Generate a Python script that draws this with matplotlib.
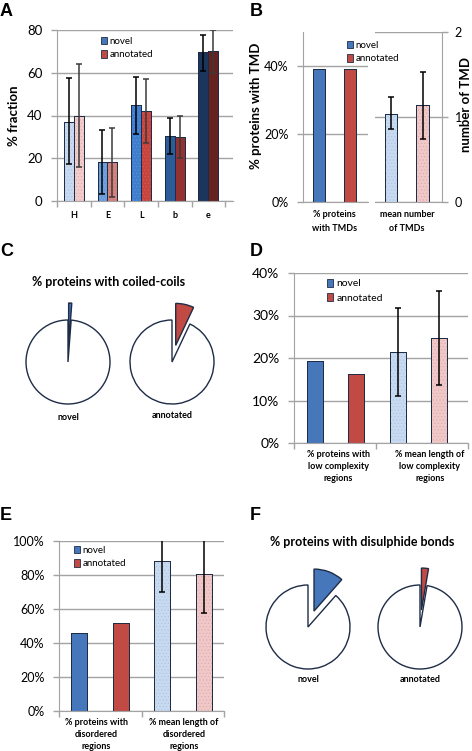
import matplotlib
matplotlib.use('Agg')
import matplotlib.pyplot as plt
from matplotlib.patches import Patch

plt.rcParams['font.family'] = ['Lato', 'DejaVu Sans']
plt.rcParams['hatch.linewidth'] = 0.4

W, H = 472, 751

# ---------------- data ----------------
# Panel A: secondary structure fractions
a_categories = ['H', 'E', 'L', 'b', 'e']
a_novel = [37.1, 18.1, 45.0, 30.6, 69.5]
a_novel_lo = [17.2, 3.1, 31.2, 22.0, 60.6]
a_novel_hi = [57.5, 33.1, 58.2, 39.0, 77.8]
a_annot = [40.0, 18.1, 42.2, 30.1, 70.0]
a_annot_lo = [16.1, 2.0, 27.0, 20.0, 59.8]
a_annot_hi = [64.0, 34.0, 57.0, 40.0, 79.8]
a_yticks = [0, 20, 40, 60, 80]

# Panel B: transmembrane domains
b_pct_label = '% proteins\nwith TMDs'
b_pct_values = [0.391, 0.391]          # novel, annotated
b_pct_yticks = [0.0, 0.2, 0.4]
b_pct_yticklabels = ['0%', '20%', '40%']
b_mean_label = 'mean number\nof TMDs'
b_mean_values = [1.04, 1.14]           # novel, annotated
b_mean_lo = [0.86, 0.74]
b_mean_hi = [1.23, 1.53]
b_mean_yticks = [0, 1, 2]

# Panel C: coiled-coils (% of proteins)
c_groups = ['novel', 'annotated']
c_pct = [1.2, 7.0]

# Panel D: low complexity regions
d_labels = ['% proteins with\nlow complexity\nregions', '% mean length of\nlow complexity\nregions']
d_values = [0.194, 0.163, 0.215, 0.248]
d_err_lo = [0.111, 0.136]
d_err_hi = [0.318, 0.358]
d_yticks = [0.0, 0.1, 0.2, 0.3, 0.4]
d_yticklabels = ['0%', '10%', '20%', '30%', '40%']

# Panel E: disordered regions
e_labels = ['% proteins with\ndisordered\nregions', '% mean length of\ndisordered\nregions']
e_values = [0.459, 0.516, 0.884, 0.804]
e_err_lo = [0.702, 0.575]
e_err_hi = [1.06, 1.03]
e_yticks = [0.0, 0.2, 0.4, 0.6, 0.8, 1.0]
e_yticklabels = ['0%', '20%', '40%', '60%', '80%', '100%']

# Panel F: disulphide bonds (% of proteins)
f_groups = ['novel', 'annotated']
f_pct = [11.5, 2.7]

# ---------------- style ----------------
BLUE = '#4677bb'
RED = '#c24a45'
LBLUE = '#c8daf0'
LRED = '#f0c8c7'
EDGE = '#1e2c46'
GRID = '#a3a3a3'
a_novel_colors = ['#c8daf0', '#6f9fdd', '#3f7ecf', '#2d5c99', '#1c355c']
a_annot_colors = ['#f2cdcc', '#d6827f', '#c6433e', '#933230', '#66221f']
DOTS = {LBLUE: '#a9c3e3', LRED: '#dcaaa9', '#c8daf0': '#a9c3e3', '#f2cdcc': '#dcaaa9',
        '#6f9fdd': '#5f8fcf', '#d6827f': '#c8706d', '#3f7ecf': '#5d93d8', '#c6433e': '#d4605b'}

fig = plt.figure(figsize=(W / 100, H / 100), dpi=100)


def add_ax(x0, y0, x1, y1):
    return fig.add_axes([x0 / W, 1 - y1 / H, (x1 - x0) / W, (y1 - y0) / H])


def ftext(x, y, s, **kw):
    return fig.text(x / W, 1 - y / H, s, **kw)


def style_axis(ax, left=True):
    for side in ['top', 'right', 'left', 'bottom']:
        ax.spines[side].set_visible(False)
    ax.spines['bottom'].set_visible(True)
    ax.spines['bottom'].set_color(GRID)
    side = 'left' if left else 'right'
    ax.spines[side].set_visible(True)
    ax.spines[side].set_color(GRID)
    ax.yaxis.grid(True, color=GRID, lw=1)
    ax.set_axisbelow(True)
    ax.tick_params(axis='y', length=4, color=GRID, width=1, pad=6.5, labelsize=9.5)
    ax.tick_params(axis='x', which='major', length=0)
    ax.tick_params(axis='x', which='minor', length=4, color=GRID, width=1)
    ax.set_facecolor('none')


def bars(ax, x, h, w, colors):
    ax.bar(x, h, w, color=colors, edgecolor=EDGE, lw=0.7, zorder=2)
    for xi, hi, ci in zip(x, h, colors):
        if ci in DOTS:
            ax.bar([xi], [hi], w, fill=False, hatch='.....', edgecolor=DOTS[ci], lw=0, zorder=2.1)
    ax.bar(x, h, w, fill=False, edgecolor=EDGE, lw=0.7, zorder=2.2)


def add_legend(ax, x, y, size=7):
    handles = [Patch(facecolor=BLUE, edgecolor=EDGE, lw=0.6, label='novel'),
               Patch(facecolor=RED, edgecolor=EDGE, lw=0.6, label='annotated')]
    ax.legend(handles=handles, loc='upper left', bbox_to_anchor=(x / W, 1 - y / H),
              bbox_transform=fig.transFigure, frameon=False, fontsize=size,
              handlelength=0.6, handleheight=0.75, handletextpad=0.3,
              labelspacing=0.45, borderpad=0, borderaxespad=0)


panel_kw = dict(fontsize=13, fontweight='bold', family=['Liberation Sans', 'DejaVu Sans'],
                ha='left', va='center')
ftext(0, 12, 'A', **panel_kw)
ftext(250, 11, 'B', **panel_kw)
ftext(0, 251, 'C', **panel_kw)
ftext(250, 251, 'D', **panel_kw)
ftext(0, 515, 'E', **panel_kw)
ftext(250, 515, 'F', **panel_kw)

YL = dict(rotation=90, fontsize=9.5, fontweight='bold', ha='center', va='center')

# ---------------- Panel A ----------------
axA = add_ax(57, 30, 233, 201)
style_axis(axA)
xa = list(range(len(a_categories)))
bw = 0.296
xn = [x - bw / 2 for x in xa]
xn2 = [x + bw / 2 for x in xa]
bars(axA, xn, a_novel, bw, a_novel_colors)
bars(axA, xn2, a_annot, bw, a_annot_colors)
axA.errorbar(xn, a_novel, yerr=[[v - l for v, l in zip(a_novel, a_novel_lo)],
                                [h - v for v, h in zip(a_novel, a_novel_hi)]],
             fmt='none', ecolor='black', elinewidth=1.1, capsize=2.5, capthick=1.1, zorder=3)
axA.errorbar(xn2, a_annot, yerr=[[v - l for v, l in zip(a_annot, a_annot_lo)],
                                 [h - v for v, h in zip(a_annot, a_annot_hi)]],
             fmt='none', ecolor='#3a3a3a', elinewidth=1.1, capsize=2.5, capthick=1.1, zorder=3)
axA.set_xlim(-0.48, 4.73)
axA.set_ylim(0, 80)
axA.set_yticks(a_yticks)
axA.set_xticks(xa, a_categories, fontsize=6.5, fontweight='bold')
axA.set_xticks([x - 0.5 for x in xa] + [4.5], minor=True)
axA.tick_params(axis='x', which='major', pad=7)
add_legend(axA, 101, 37)
ftext(14, 116, '% fraction', **YL)

# ---------------- Panel B ----------------
axB1 = add_ax(303, 32, 368, 202)
style_axis(axB1)
axB1.tick_params(axis='y', labelsize=9)
bars(axB1, [0, 1], b_pct_values, 0.38, [BLUE, RED])
axB1.set_xlim(-0.51, 1.56)
axB1.set_ylim(0, 0.5)
axB1.set_yticks(b_pct_yticks, b_pct_yticklabels)
axB1.set_xticks([0.5], [b_pct_label], fontsize=6.5, fontweight='bold', linespacing=1.6)
axB1.tick_params(axis='x', which='major', pad=6)
add_legend(axB1, 347, 41)

axB2 = add_ax(375, 32, 442, 202)
style_axis(axB2, left=False)
axB2.yaxis.tick_right()
bars(axB2, [0, 1], b_mean_values, 0.4, [LBLUE, LRED])
axB2.errorbar([0, 1], b_mean_values,
              yerr=[[v - l for v, l in zip(b_mean_values, b_mean_lo)],
                    [h - v for v, h in zip(b_mean_values, b_mean_hi)]],
              fmt='none', ecolor='black', elinewidth=1.1, capsize=2.5, capthick=1.1, zorder=3)
axB2.set_xlim(-0.5, 1.6)
axB2.set_ylim(0, 2)
axB2.set_yticks(b_mean_yticks)
axB2.tick_params(axis='y', pad=5, labelsize=9)
axB2.set_xticks([0.5], [b_mean_label], fontsize=6.5, fontweight='bold', linespacing=1.6)
axB2.tick_params(axis='x', which='major', pad=6)
ftext(256, 106, '% proteins with TMD', **YL)
ftext(466.5, 104, 'number of TMD', **YL)

# ---------------- Panel D ----------------
axD = add_ax(294, 273, 468, 443)
style_axis(axD)
axD.tick_params(axis='y', labelsize=10)
xd = [0, 1, 2, 3]
bars(axD, xd, d_values, 0.39, [BLUE, RED, LBLUE, LRED])
axD.errorbar([2, 3], d_values[2:],
             yerr=[[v - l for v, l in zip(d_values[2:], d_err_lo)],
                   [h - v for v, h in zip(d_values[2:], d_err_hi)]],
             fmt='none', ecolor='black', elinewidth=1.1, capsize=2.5, capthick=1.1, zorder=3)
axD.set_xlim(-0.5, 3.69)
axD.set_ylim(0, 0.4)
axD.set_yticks(d_yticks, d_yticklabels)
axD.set_xticks([0.57, 2.77], d_labels, fontsize=6.5, fontweight='bold', linespacing=1.45)
axD.set_xticks([-0.5, 1.47, 3.69], minor=True)
axD.tick_params(axis='x', which='major', pad=5)
add_legend(axD, 327, 279, size=7.5)

# ---------------- Panel E ----------------
axE = add_ax(59, 541, 224, 711)
style_axis(axE)
axE.tick_params(axis='y', labelsize=9)
xe = [0, 1, 2, 3]
bars(axE, xe, e_values, 0.39, [BLUE, RED, LBLUE, LRED])
axE.errorbar([2, 3], e_values[2:],
             yerr=[[v - l for v, l in zip(e_values[2:], e_err_lo)],
                   [h - v for v, h in zip(e_values[2:], e_err_hi)]],
             fmt='none', ecolor='black', elinewidth=1.1, capsize=2.5, capthick=1.1, zorder=3)
axE.set_xlim(-0.48, 3.48)
axE.set_ylim(0, 1.0)
axE.set_yticks(e_yticks, e_yticklabels)
axE.set_xticks([0.42, 2.52], e_labels, fontsize=6.5, fontweight='bold', linespacing=1.45)
axE.set_xticks([-0.48, 1.5, 3.48], minor=True)
axE.tick_params(axis='x', which='major', pad=5)
add_legend(axE, 74, 546)

# ---------------- Pies (C and F) ----------------
ov = fig.add_axes([0, 0, 1, 1])
ov.set_facecolor('none')
R = 42
EXPL = 17


def draw_pie(cx, cy, pct, color):
    ov.pie([pct, 100 - pct], colors=[color, 'white'], startangle=90, counterclock=False,
           explode=[EXPL, 0], radius=R, center=(cx, H - cy),
           wedgeprops=dict(edgecolor=EDGE, linewidth=1.0))


draw_pie(68, 362, c_pct[0], BLUE)
draw_pie(172, 362, c_pct[1], RED)
draw_pie(308, 627, f_pct[0], BLUE)
draw_pie(420, 627, f_pct[1], RED)
ov.set_xlim(0, W)
ov.set_ylim(0, H)
ov.set_aspect('auto')
ov.axis('off')

ftext(109, 282, '% proteins with coiled-coils', fontsize=9, fontweight='bold', ha='center', va='center')
ftext(68, 417, c_groups[0], fontsize=6.5, fontweight='bold', ha='center', va='center')
ftext(172, 415, c_groups[1], fontsize=6.5, fontweight='bold', ha='center', va='center')
ftext(362, 542, '% proteins with disulphide bonds', fontsize=9, fontweight='bold', ha='center', va='center')
ftext(308, 680, f_groups[0], fontsize=6.5, fontweight='bold', ha='center', va='center')
ftext(420, 679, f_groups[1], fontsize=6.5, fontweight='bold', ha='center', va='center')

fig.savefig('out.png', dpi=100)
